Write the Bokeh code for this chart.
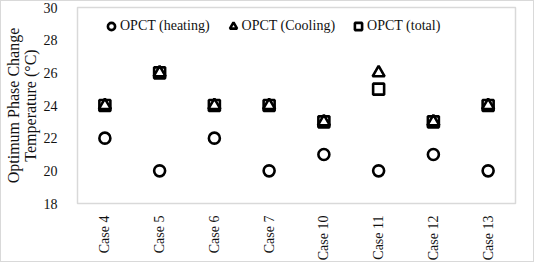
from bokeh.plotting import figure
from bokeh.embed import file_html
from bokeh.resources import INLINE
from bokeh.models import Legend, LegendItem, FixedTicker, ColumnDataSource
import math

cases = ["Case 4", "Case 5", "Case 6", "Case 7", "Case 10", "Case 11", "Case 12", "Case 13"]
heating = [22, 20, 22, 20, 21, 20, 21, 20]
cooling = [24, 26, 24, 24, 23, 26, 23, 24]
total = [24, 26, 24, 24, 23, 25, 23, 24]
y_ticks = [18, 20, 22, 24, 26, 28, 30]

FONT = "Liberation Serif"

src = ColumnDataSource(dict(x=cases, h=heating, c=cooling, t=total))

p = figure(width=534, height=262, x_range=cases, y_range=(18, 30),
           output_backend="svg", toolbar_location=None,
           min_border_left=66, min_border_right=20, min_border_top=6, min_border_bottom=60)
p.styles = {"border": "1px solid #d9d9d9"}

p.xgrid.grid_line_color = None
p.ygrid.grid_line_color = None
p.outline_line_color = "#d9d9d9"
p.outline_line_width = 1.5
p.background_fill_color = "white"

r_h = p.scatter("x", "h", source=src, marker="circle", size=11, fill_color=None,
                line_color="black", line_width=2.6)
r_c = p.scatter("x", "c", source=src, marker="triangle", size=12, fill_color=None,
                line_color="black", line_width=2.6)
r_t = p.scatter("x", "t", source=src, marker="square", size=11, fill_color=None,
                line_color="black", line_width=2.6)

for ax in (p.xaxis[0], p.yaxis[0]):
    ax.axis_line_color = None
    ax.major_tick_line_color = None
    ax.minor_tick_line_color = None
    ax.major_label_text_font = FONT
    ax.major_label_text_font_size = "14px"
    ax.major_label_text_color = "#111111"

p.yaxis.ticker = FixedTicker(ticks=y_ticks)
p.yaxis.major_label_standoff = 14
p.yaxis.axis_label = "Optimum Phase Change\nTemperature (\u00b0C)"
p.yaxis.axis_label_text_font = FONT
p.yaxis.axis_label_text_font_size = "16px"
p.yaxis.axis_label_text_line_height = 1.0
p.yaxis.axis_label_text_font_style = "normal"
p.yaxis.axis_label_text_color = "#111111"
p.yaxis.axis_label_standoff = 2

p.xaxis.major_label_orientation = math.pi / 2
p.xaxis.major_label_standoff = 6

legend = Legend(items=[
    LegendItem(label="OPCT (heating)", renderers=[r_h]),
    LegendItem(label="OPCT (Cooling)", renderers=[r_c]),
    LegendItem(label="OPCT (total)", renderers=[r_t]),
], orientation="horizontal", location=(25, 168))
legend.border_line_color = None
legend.background_fill_alpha = 0
legend.padding = 0
legend.margin = 0
legend.spacing = 14
legend.label_standoff = 0
legend.glyph_width = 18
legend.glyph_height = 18
legend.label_text_font = FONT
legend.label_text_font_size = "14px"
legend.label_text_color = "#111111"
legend.label_height = 18
p.add_layout(legend, "center")

open("out.html", "w").write(file_html(p, INLINE))
